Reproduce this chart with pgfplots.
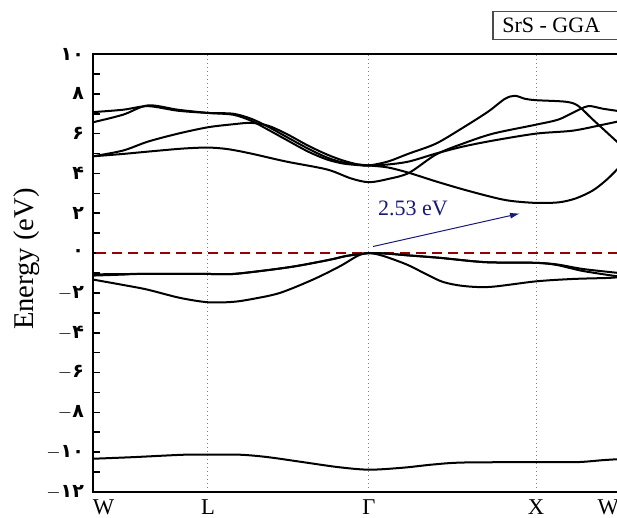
\documentclass[border=0pt]{standalone}
\usepackage{pgfplots}
\pgfplotsset{compat=1.18}
\usetikzlibrary{arrows.meta}
\usepackage{fontspec}
\setmainfont{Liberation Serif}
\newfontfamily\arabicfont[Script=Arabic]{DejaVu Sans}
\definecolor{darkred}{RGB}{150,0,0}
\definecolor{navyb}{RGB}{25,25,120}
\begin{document}
\begin{tikzpicture}
\begin{axis}[
  at={(0,0)}, anchor=south west,
  scale only axis, width=263pt, height=219pt,
  xmin=0, xmax=526, ymin=-12, ymax=10,
  clip=false,
  axis line style={line width=1pt},
  xtick={0,115,276,443,526},
  xticklabels={\makebox[0pt][l]{W},L,Γ,X,\makebox[0pt][r]{W}},
  xtick pos=bottom,
  major x tick style={draw=none},
  xmajorgrids,
  grid style={gray, line width=0.5pt, dash pattern=on 0.6pt off 1.4pt},
  xticklabel style={font=\fontsize{11.3}{12}\selectfont, yshift=-0.5pt},
  ytick={-12,-10,...,10},
  yticklabels={$-$۱۲,$-$۱۰,$-$۸,$-$۶,$-$۴,$-$۲,۰,۲,۴,۶,۸,۱۰},
  yticklabel style={font=\arabicfont\bfseries\fontsize{9.5}{10}\selectfont, xshift=-1pt},
  minor y tick num=1,
  ytick pos=left,
  tick align=inside,
  major tick length=3.5pt, minor tick length=3.5pt,
  every tick/.style={black, line width=0.8pt},
  ylabel={Energy (eV)},
  every axis y label/.style={at={(axis description cs:-0.127,0.532)}, rotate=90, anchor=center, font=\fontsize{14.3}{16}\selectfont},
  band/.style={black, line width=1pt, smooth, no markers},
]
% Fermi level
\addplot[darkred, line width=1.2pt, dash pattern=on 5pt off 3pt] coordinates {(3,0)(526,0)};
% lowest (S 3s) band
\addplot[band] coordinates {(0,-10.33)(40,-10.25)(90,-10.13)(115,-10.12)(148,-10.13)(175,-10.25)(210,-10.5)(245,-10.75)(276,-10.88)(310,-10.78)(340,-10.62)(370,-10.52)(443,-10.5)(484,-10.5)(510,-10.4)(526,-10.35)};
% valence bands
\addplot[band] coordinates {(0,-1.07)(40,-1.05)(115,-1.05)(140,-1.05)(174,-0.86)(200,-0.68)(220,-0.5)(240,-0.3)(254,-0.14)(276,0)(295,-0.03)(314,-0.11)(347,-0.24)(380,-0.41)(400,-0.47)(443,-0.49)(464,-0.57)(490,-0.8)(526,-1.0)};
\addplot[band] coordinates {(0,-1.13)(30,-1.08)(45,-1.05)(115,-1.05)(140,-1.05)(174,-0.86)(200,-0.68)(220,-0.5)(240,-0.3)(254,-0.14)(276,0)(295,-0.03)(314,-0.11)(347,-0.24)(380,-0.41)(400,-0.47)(443,-0.49)(464,-0.6)(490,-0.9)(526,-1.18)};
\addplot[band] coordinates {(0,-1.33)(30,-1.6)(54,-1.83)(87,-2.25)(115,-2.47)(140,-2.45)(160,-2.3)(187,-2.0)(220,-1.33)(247,-0.66)(265,-0.13)(276,0)(290,-0.14)(314,-0.58)(334,-1.08)(350,-1.45)(370,-1.65)(397,-1.7)(443,-1.42)(480,-1.3)(514,-1.25)(526,-1.21)};
% conduction bands
\addplot[band] coordinates {(0,4.86)(30,4.98)(60,5.12)(90,5.25)(115,5.3)(135,5.22)(158,5.0)(193,4.6)(234,4.2)(258,3.75)(276,3.56)(295,3.72)(316,4.03)(343,4.95)(370,5.5)(400,6.0)(443,6.45)(465,6.7)(480,7.05)(495,7.38)(510,7.25)(526,7.13)};
\addplot[band] coordinates {(0,4.86)(30,5.15)(55,5.6)(85,6.0)(115,6.32)(140,6.47)(158,6.54)(175,6.4)(193,6.0)(215,5.4)(234,4.95)(250,4.65)(265,4.45)(276,4.4)(295,4.45)(316,4.6)(343,5.0)(370,5.35)(400,5.65)(443,6.0)(480,6.15)(510,6.45)(526,6.62)};
\addplot[band] coordinates {(0,6.57)(30,6.95)(55,7.42)(85,7.2)(115,7.04)(140,6.95)(158,6.65)(175,6.2)(193,5.7)(215,5.1)(234,4.7)(250,4.5)(265,4.42)(276,4.4)(295,4.6)(316,5.0)(343,5.5)(370,6.3)(395,7.1)(412,7.75)(422,7.9)(432,7.75)(443,7.68)(473,7.6)(485,7.4)(500,6.7)(526,5.5)};
\addplot[band] coordinates {(0,7.08)(30,7.2)(55,7.38)(85,7.15)(115,7.04)(140,7.0)(158,6.75)(175,6.35)(193,5.85)(215,5.25)(234,4.8)(250,4.55)(265,4.45)(276,4.4)(295,4.3)(316,4.03)(343,3.6)(370,3.2)(400,2.8)(418,2.62)(443,2.52)(466,2.55)(483,2.75)(500,3.15)(514,3.7)(526,4.3)};
% gap annotation
\draw[navyb, line width=0.5pt, -{Latex[length=5pt,width=3pt]}] (axis cs:280,0.33) -- (axis cs:427,1.99);
\node[navyb, font=\fontsize{11}{12}\selectfont] at (axis cs:320,2.24) {2.53 eV};
% title box
\draw[black!70, line width=0.6pt] (axis cs:400,10.73) rectangle (axis cs:560,12.14);
\node[anchor=west, inner sep=0pt, font=\fontsize{11}{12}\selectfont] at (axis cs:409,11.43) {SrS - GGA};
\end{axis}
\pgfresetboundingbox
\path[use as bounding box] (-46.5pt,-13pt) rectangle (262pt,246pt);
\end{tikzpicture}
\end{document}
